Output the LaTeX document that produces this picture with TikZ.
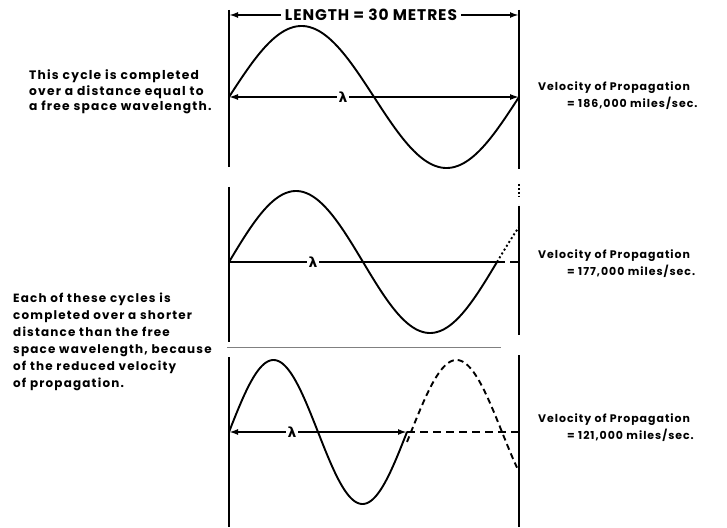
\documentclass[tikz,border=0pt]{standalone}
\usepackage{fontspec}
\setmainfont{Poppins}
\newfontfamily\notefont{Poppins}[LetterSpace=10]
\newfontfamily\velofont{Poppins}[LetterSpace=9]
\newfontfamily\topfont{Poppins}[LetterSpace=6]
\newfontfamily\lamfont{DejaVu Sans}
\usetikzlibrary{arrows.meta}
\begin{document}
\begin{tikzpicture}[x=1bp,y=-1bp,
  wall/.style={line width=2.4bp},
  wave/.style={line width=1.9bp, line join=round, line cap=round},
  axisline/.style={line width=1.9bp},
  dashedwave/.style={line width=1.9bp, dash pattern=on 6bp off 4bp},
  dottedwave/.style={line width=1.9bp, dash pattern=on 2bp off 2.5bp},
  dashedaxis/.style={line width=2bp, dash pattern=on 8bp off 5bp},
  bothtips/.style={{Latex[length=9bp,width=6bp]}-{Latex[length=9bp,width=6bp]}},
  lam/.style={fill=white, inner xsep=2bp, inner ysep=0bp, font=\lamfont\bfseries\fontsize{14}{14}\selectfont},
  note/.style={align=left, anchor=west, inner sep=0pt, font=\notefont\bfseries\fontsize{12.3}{15.5}\selectfont},
  notetwo/.style={align=left, anchor=west, inner sep=0pt, font=\notefont\bfseries\fontsize{12}{17}\selectfont},
  velo/.style={align=left, anchor=west, inner sep=0pt, font=\velofont\bfseries\fontsize{11}{17}\selectfont},
  toplabel/.style={fill=white, inner xsep=4bp, inner ysep=1bp, font=\topfont\bfseries\fontsize{15.5}{16}\selectfont},
  sep/.style={line width=0.7bp, gray}
]
\useasboundingbox (0,0) rectangle (727,528);

% ---- coordinates
\coordinate (L1t) at (229,10);  \coordinate (L1b) at (229,167);
\coordinate (R1t) at (519,10);  \coordinate (R1b) at (519,169);
\coordinate (L2t) at (229,187); \coordinate (L2b) at (229,342);
\coordinate (R2t) at (519,206); \coordinate (R2b) at (519,335);
\coordinate (R2dt) at (519,184); \coordinate (R2db) at (519,197);
\coordinate (L3t) at (229,357); \coordinate (L3b) at (229,527);
\coordinate (R3t) at (519,355); \coordinate (R3b) at (519,527);
\coordinate (T1l) at (229,15);  \coordinate (T1r) at (519,15);
\coordinate (A1l) at (229,97);  \coordinate (A1r) at (519,97);
\coordinate (A2l) at (229,262); \coordinate (A2m) at (497,262); \coordinate (A2r) at (519,262);
\coordinate (A3l) at (229,432); \coordinate (A3m) at (407,432); \coordinate (A3r) at (519,432);
\coordinate (S1) at (227,347);  \coordinate (S2) at (501,347);

% ---- walls
\draw[wall] (L1t) -- (L1b);
\draw[wall] (R1t) -- (R1b);
\draw[wall] (L2t) -- (L2b);
\draw[wall] (R2t) -- (R2b);
\draw[line width=1.6bp, dash pattern=on 2bp off 2bp] (R2dt) -- (R2db);
\draw[wall] (L3t) -- (L3b);
\draw[wall] (R3t) -- (R3b);
\draw[sep] (S1) -- (S2);

% ---- top dimension
\draw[line width=1.8bp, bothtips] (T1l) -- (T1r);
\node[toplabel] (len) at (371,15) {LENGTH = 30 METRES};

% ---- panel 1
\draw[axisline, line width=1.5bp, bothtips] (A1l) -- (A1r);
\node[lam] (lam1) at (343,97) {λ};
\draw[wave] plot[domain=0:290, samples=150] ({229+\x},{97-71*sin((\x/290)*360)});

% ---- panel 2
\draw[axisline, line width=2.6bp] (A2l) -- (A2m);
\draw[dashedaxis] (A2m) -- (A2r);
\node[lam] (lam2) at (313,262) {λ};
\draw[wave] plot[domain=0:268, samples=150] ({229+\x},{262-71*sin((\x/268)*360)});
\draw[dottedwave] plot[domain=268:290, samples=20] ({229+\x},{262-71*sin((\x/268)*360)});

% ---- panel 3
\draw[axisline, bothtips] (A3l) -- (A3m);
\draw[dashedaxis] (A3m) -- (A3r);
\node[lam] (lam3) at (292,432) {λ};
\draw[wave] plot[domain=0:178, samples=120] ({229+\x},{432-72*sin((\x/178)*360)});
\draw[dashedwave] plot[domain=178:288, samples=100] ({229+\x},{432-72*sin((\x/182)*360)});

% ---- texts
\node[note] (n1) at (29,92) {This cycle is completed\\over a distance equal to\\a free space wavelength.};
\node[notetwo] (n2) at (13,342) {Each of these cycles is\\completed over a shorter\\distance than the free\\space wavelength, because\\of the reduced velocity\\of propagation.};

\node[velo] (v1) at (538,96) {Velocity of Propagation\\\hspace*{29bp}= 186,000 miles/sec.};
\node[velo] (v2) at (538,264) {Velocity of Propagation\\\hspace*{29bp}= 177,000 miles/sec.};
\node[velo] (v3) at (538,428) {Velocity of Propagation\\\hspace*{29bp}= 121,000 miles/sec.};
\end{tikzpicture}
\end{document}
